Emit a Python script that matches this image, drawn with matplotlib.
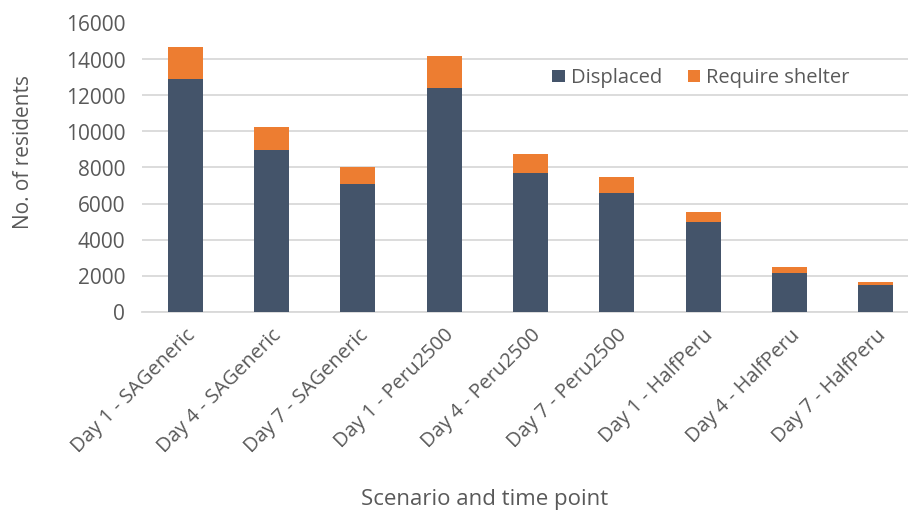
import matplotlib
matplotlib.use("Agg")
import matplotlib.pyplot as plt
import numpy as np

categories = ["Day 1 - SAGeneric", "Day 4 - SAGeneric", "Day 7 - SAGeneric",
              "Day 1 - Peru2500", "Day 4 - Peru2500", "Day 7 - Peru2500",
              "Day 1 - HalfPeru", "Day 4 - HalfPeru", "Day 7 - HalfPeru"]
displaced = [12900, 9000, 7100, 12400, 7700, 6600, 4950, 2150, 1500]
require_shelter_total = [14700, 10250, 8050, 14200, 8750, 7450, 5550, 2450, 1650]
require_shelter = [t - d for t, d in zip(require_shelter_total, displaced)]
yticks = [0, 2000, 4000, 6000, 8000, 10000, 12000, 14000, 16000]

plt.rcParams['font.family'] = ['Open Sans', 'DejaVu Sans']
W, H = 908, 515
fig = plt.figure(figsize=(W/100, H/100), dpi=100)
left, right, top, bottom = 142, 919, 23.5, 311.5
ax = fig.add_axes([left/W, 1 - bottom/H, (right-left)/W, (bottom-top)/H])

x = np.arange(len(categories))
navy = "#44546A"
orange = "#ED7D31"
grey = "#595959"
ax.bar(x, displaced, width=0.405, color=navy, label="Displaced", zorder=3)
ax.bar(x, require_shelter, bottom=displaced, width=0.405, color=orange,
       label="Require shelter", zorder=3)

ax.set_xlim(-0.5, len(categories) - 0.5)
ax.set_ylim(0, 16000)
ax.set_yticks(yticks)
ax.set_yticklabels([str(v) for v in yticks], fontsize=15, color=grey)
ax.set_xticks(x)
ax.set_xticklabels(categories, rotation=45, ha='right', rotation_mode='anchor',
                   fontsize=14.5, color=grey)
ax.tick_params(axis='both', length=0)
ax.tick_params(axis='x', pad=10)
ax.tick_params(axis='y', pad=12)
ax.grid(axis='y', color="#D9D9D9", linewidth=1.3, zorder=0)
for s in ['top', 'right', 'left']:
    ax.spines[s].set_visible(False)
ax.spines['bottom'].set_color("#D9D9D9")
ax.spines['bottom'].set_linewidth(1.3)

ax.set_ylabel("No. of residents", fontsize=15, color=grey)
ax.yaxis.set_label_coords((34 - left)/(right-left), 1 - (152 - top)/(bottom-top))
fig.text(485/W, 1 - 500/H, "Scenario and time point", fontsize=16,
         color=grey, ha='center', va='center')

leg = ax.legend(loc='center', bbox_to_anchor=((701 - left)/(right-left), 1 - (78 - top)/(bottom-top)),
                ncol=2, frameon=False, fontsize=14.5, handlelength=0.6, handleheight=0.6,
                handletextpad=0.3, columnspacing=1.3)
for t in leg.get_texts():
    t.set_color(grey)

fig.savefig("out.png", dpi=100)
